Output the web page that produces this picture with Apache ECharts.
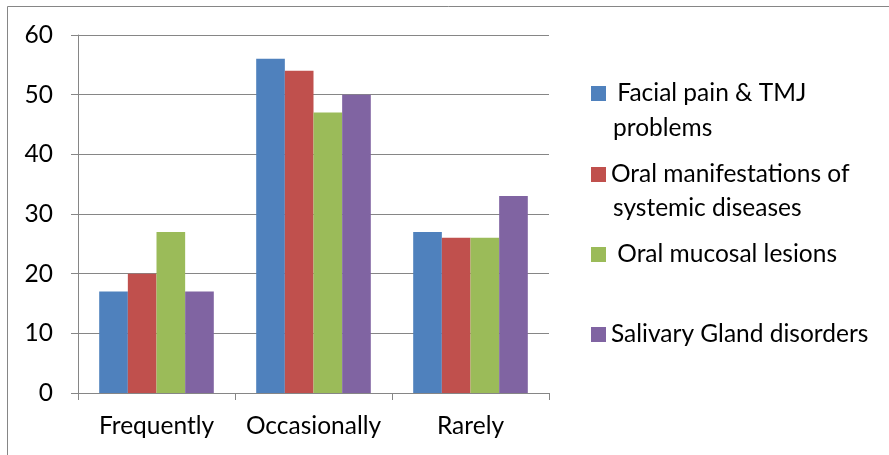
<!DOCTYPE html>
<html>
<head>
<meta charset="utf-8">
<script src="https://cdn.jsdelivr.net/npm/echarts@6/dist/echarts.min.js"></script>
<style>html,body{margin:0;padding:0;background:#fff}#c{width:889px;height:455px}</style>
</head>
<body>
<div id="c"></div>
<script>
var categories = ['Frequently', 'Occasionally', 'Rarely'];
var seriesNames = [' Facial pain & TMJ', 'Oral manifestations of', ' Oral mucosal lesions', 'Salivary Gland disorders'];
var seriesSecondLines = ['problems', 'systemic diseases', '', ''];
var facialPain = [17, 56, 27];
var oralManifestations = [20, 54, 26];
var oralMucosal = [27, 47, 26];
var salivaryGland = [17, 50, 33];
var yTicks = [0, 10, 20, 30, 40, 50, 60];

var colors = ['#4F81BD', '#C0504D', '#9BBB59', '#8064A2'];
var values = [facialPain, oralManifestations, oralMucosal, salivaryGland];
var FONT = 'Lato';
var FS = 24.5;
var legendIconCenters = [96, 177, 257, 337];
var secondLineCenters = [128, 208];

var chart = echarts.init(document.getElementById('c'), null, {renderer: 'canvas'});
var legends = seriesNames.map(function (n, i) {
  return {
    data: [n],
    left: 591,
    top: legendIconCenters[i] - 15,
    padding: 0,
    itemWidth: 15,
    itemHeight: 15,
    itemGap: 0,
    icon: 'rect',
    selectedMode: false,
    textStyle: {fontFamily: FONT, fontSize: FS, color: '#000'},
    height: 30
  };
});
var graphics = [{
  type: 'rect',
  shape: {x: 7.5, y: 6.5, width: 1000, height: 1000},
  style: {fill: null, stroke: '#868686', lineWidth: 1},
  silent: true
}];
seriesSecondLines.forEach(function (t, i) {
  if (t) {
    graphics.push({
      type: 'text',
      left: 613,
      top: secondLineCenters[i] - 15,
      style: {text: t, fontFamily: FONT, fontSize: FS, fill: '#000', lineHeight: 30},
      silent: true
    });
  }
});

chart.setOption({
  animation: false,
  color: colors,
  grid: {left: 78, right: 340, top: 35, bottom: 62, containLabel: false},
  legend: legends,
  graphic: graphics,
  xAxis: {
    type: 'category',
    data: categories,
    boundaryGap: true,
    axisLine: {lineStyle: {color: '#868686', width: 1}},
    axisTick: {show: true, length: 7, interval: 0, lineStyle: {color: '#868686'}},
    axisLabel: {fontFamily: FONT, fontSize: FS, color: '#000', margin: 21, interval: 0, hideOverlap: false}
  },
  yAxis: {
    type: 'value',
    min: yTicks[0],
    max: yTicks[yTicks.length - 1],
    interval: 10,
    axisLine: {show: true, lineStyle: {color: '#868686', width: 1}},
    axisTick: {show: true, length: 7, lineStyle: {color: '#868686'}},
    splitLine: {show: true, lineStyle: {color: '#868686', width: 1}},
    axisLabel: {fontFamily: FONT, fontSize: FS, color: '#000', margin: 25}
  },
  series: seriesNames.map(function (n, i) {
    return {
      name: n,
      type: 'bar',
      data: values[i],
      barGap: '0%',
      barCategoryGap: '27%',
      itemStyle: {color: colors[i]}
    };
  })
});
</script>
</body>
</html>
